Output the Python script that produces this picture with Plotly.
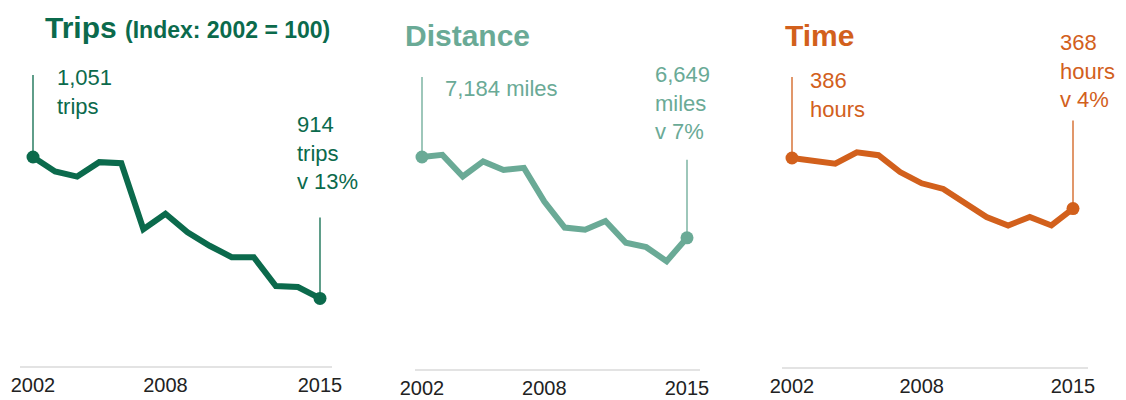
import plotly.graph_objects as go

# Annual series, 2002-2015 (raw values; plotted as index 2002 = 100)
years = list(range(2002, 2016))
trips = [1051, 1037, 1032, 1046, 1045, 981, 996, 978, 965, 954, 954, 926, 925, 914]
distance = [7184, 7198, 7055, 7155, 7098, 7112, 6889, 6717, 6703, 6760, 6616, 6587, 6494, 6649]
hours = [386, 385, 384, 388, 387, 381, 377, 375, 370, 365, 362, 365, 362, 368]

tick_years = [2002, 2008, 2015]
units = ["trips", "miles", "hours"]
change_labels = ["v 13%", "v 7%", "v 4%"]

GREEN = "#0b6a4c"
TEAL = "#6aaa96"
ORANGE = "#d2601c"
FONT = "Liberation Sans, Arial, sans-serif"

W, H = 1126, 400
PX_PER_UNIT = 10.85  # vertical pixels per index point, shared by all panels

# panel geometry in pixels: (axis left, axis right, first-year x, last-year x, baseline y, 100-level y)
panels = [
    dict(left=20, right=332, x0=33, x1=320, base=366, top100=157),
    dict(left=415, right=700, x0=422, x1=687, base=369, top100=157),
    dict(left=782, right=1088, x0=792, x1=1073, base=367, top100=158),
]


def index(vals):
    return [v / vals[0] * 100 for v in vals]


series = [(trips, GREEN), (distance, TEAL), (hours, ORANGE)]

fig = go.Figure()
layout_axes = {}
for i, ((vals, color), p) in enumerate(zip(series, panels)):
    n = i + 1
    xa = "x" if n == 1 else f"x{n}"
    ya = "y" if n == 1 else f"y{n}"
    idx = index(vals)

    fig.add_trace(go.Scatter(
        x=years, y=idx, mode="lines", xaxis=xa, yaxis=ya,
        line=dict(color=color, width=6), hoverinfo="skip", showlegend=False,
    ))
    fig.add_trace(go.Scatter(
        x=[years[0], years[-1]], y=[idx[0], idx[-1]], mode="markers",
        xaxis=xa, yaxis=ya, marker=dict(color=color, size=13),
        hoverinfo="skip", showlegend=False,
    ))

    ppy = (p["x1"] - p["x0"]) / (years[-1] - years[0])
    xr = [years[0] - (p["x0"] - p["left"]) / ppy, years[-1] + (p["right"] - p["x1"]) / ppy]
    yr = [100 - (p["base"] - p["top100"]) / PX_PER_UNIT, 100 + p["top100"] / PX_PER_UNIT]

    layout_axes["xaxis" if n == 1 else f"xaxis{n}"] = dict(
        domain=[p["left"] / W, p["right"] / W], range=xr, anchor=ya,
        tickmode="array", tickvals=tick_years, ticktext=[str(t) for t in tick_years],
        showgrid=False, zeroline=False, showline=True, linecolor="#e3e3e3", linewidth=2,
        ticks="", ticklabelstandoff=0, automargin=False,
        tickfont=dict(family=FONT, size=20, color="#222222"),
    )
    layout_axes["yaxis" if n == 1 else f"yaxis{n}"] = dict(
        domain=[(H - p["base"]) / H, 1], range=yr, anchor=xa, visible=False,
        automargin=False,
    )

fig.update_layout(
    width=W, height=H, margin=dict(l=0, r=0, t=0, b=0, pad=0, autoexpand=False),
    paper_bgcolor="white", plot_bgcolor="white", showlegend=False, **layout_axes,
)

ann = []


def leader(xa, ya, x, y, ay, color):
    ann.append(dict(
        xref=xa, yref=ya, x=x, y=y, ax=0, ay=ay, text=" ", showarrow=True,
        arrowhead=0, arrowwidth=1.3, arrowcolor=color, standoff=0, startstandoff=0,
        font=dict(size=1),
    ))


def label(xa, ya, x, y, text, color, xs, ys):
    ann.append(dict(
        xref=xa, yref=ya, x=x, y=y, text=text, showarrow=False,
        xanchor="left", yanchor="middle", align="left", xshift=xs, yshift=ys,
        font=dict(family=FONT, size=22, color=color),
    ))


# start / end annotations: leader lengths and label offsets in pixels
offsets = [
    dict(s_ay=-84, s_x=22, s_y=65, e_ay=-83, e_x=-25, e_y=145),
    dict(s_ay=-82, s_x=21, s_y=69, e_ay=-80, e_x=-34, e_y=135),
    dict(s_ay=-83, s_x=16, s_y=63, e_ay=-90, e_x=-15, e_y=138),
]
for i, ((vals, color), o) in enumerate(zip(series, offsets)):
    n = i + 1
    xa = "x" if n == 1 else f"x{n}"
    ya = "y" if n == 1 else f"y{n}"
    idx = index(vals)
    leader(xa, ya, years[0], idx[0], o["s_ay"], color)
    leader(xa, ya, years[-1], idx[-1], o["e_ay"], color)
    sep = " " if units[i] == "miles" else "<br>"
    label(xa, ya, years[0], idx[0], f"{vals[0]:,}{sep}{units[i]}", color, o["s_x"], o["s_y"])
    label(xa, ya, years[-1], idx[-1], f"{vals[-1]:,}<br>{units[i]}<br>{change_labels[i]}",
          color, o["e_x"], o["e_y"])

# panel titles
titles = [
    ("<b>Trips</b> <b><span style='font-size:23px'>(Index: 2002 = 100)</span></b>", GREEN, 43, 27),
    ("<b>Distance</b>", TEAL, 403, 35),
    ("<b>Time</b>", ORANGE, 783, 36),
]
for text, color, px, py in titles:
    ann.append(dict(
        xref="paper", yref="paper", x=px / W, y=1 - py / H, text=text, showarrow=False,
        xanchor="left", yanchor="middle", font=dict(family=FONT, size=30, color=color),
    ))

fig.update_layout(annotations=ann)
fig.write_html("out.html")
